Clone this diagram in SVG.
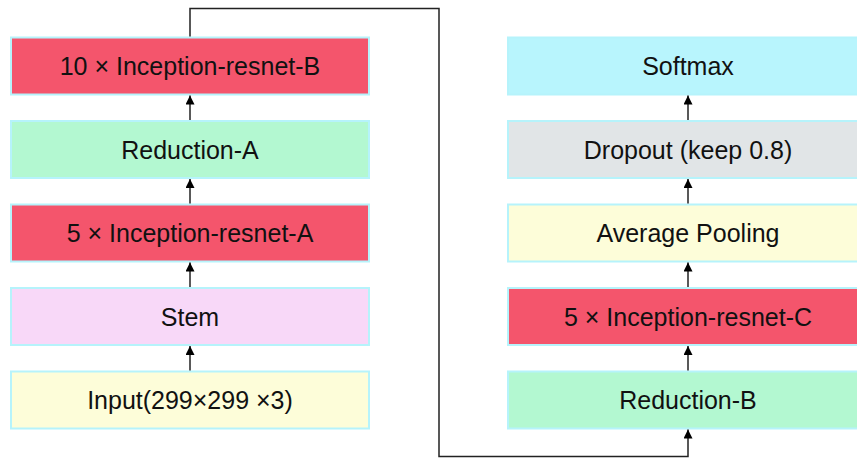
<svg xmlns="http://www.w3.org/2000/svg" width="857" height="458" viewBox="0 0 857 458">
  <style>
    .box { stroke: #b6f3fb; stroke-width: 2; }
    .red { fill: #f4556c; }
    .green { fill: #b3f8d1; }
    .pink { fill: #f8d8f8; }
    .yellow { fill: #fdfdd9; }
    .cyan { fill: #b8f5fd; }
    .gray { fill: #e1e5e7; }
    .label { font-family: "Liberation Sans", Arial, sans-serif; font-size: 25px; fill: #111; text-anchor: middle; }
    .edge { fill: none; stroke: #222; stroke-width: 1.5; }
  </style>
  <defs>
    <marker id="arrow" viewBox="0 0 10 10" refX="10" refY="5" markerWidth="10" markerHeight="9" markerUnits="userSpaceOnUse" orient="auto">
      <path d="M0,0 L10,5 L0,10 Z" fill="#000"/>
    </marker>
  </defs>
  <rect width="857" height="458" fill="#fff"/>

  <!-- left column -->
  <g id="inception-b">
    <rect class="box red" x="11" y="37.5" width="358" height="57"/>
    <text class="label" x="190" y="75">10 × Inception-resnet-B</text>
  </g>
  <g id="reduction-a">
    <rect class="box green" x="11" y="121" width="358" height="57"/>
    <text class="label" x="190" y="158.5">Reduction-A</text>
  </g>
  <g id="inception-a">
    <rect class="box red" x="11" y="204.5" width="358" height="57"/>
    <text class="label" x="190" y="242">5 × Inception-resnet-A</text>
  </g>
  <g id="stem">
    <rect class="box pink" x="11" y="288" width="358" height="57"/>
    <text class="label" x="190" y="325.5">Stem</text>
  </g>
  <g id="input">
    <rect class="box yellow" x="11" y="371.5" width="358" height="57"/>
    <text class="label" x="190" y="409">Input(299×299 ×3)</text>
  </g>

  <!-- right column -->
  <g id="softmax">
    <rect class="box cyan" x="508" y="37.5" width="358" height="57"/>
    <text class="label" x="688" y="75">Softmax</text>
  </g>
  <g id="dropout">
    <rect class="box gray" x="508" y="121" width="358" height="57"/>
    <text class="label" x="688" y="158.5">Dropout (keep 0.8)</text>
  </g>
  <g id="avg-pool">
    <rect class="box yellow" x="508" y="204.5" width="358" height="57"/>
    <text class="label" x="688" y="242">Average Pooling</text>
  </g>
  <g id="inception-c">
    <rect class="box red" x="508" y="288" width="358" height="57"/>
    <text class="label" x="688" y="325.5">5 × Inception-resnet-C</text>
  </g>
  <g id="reduction-b">
    <rect class="box green" x="508" y="371.5" width="358" height="57"/>
    <text class="label" x="688" y="409">Reduction-B</text>
  </g>

  <!-- connectors -->
  <g id="edges">
    <path class="edge" d="M190,370.5 V346" marker-end="url(#arrow)"/>
    <path class="edge" d="M190,287 V262.5" marker-end="url(#arrow)"/>
    <path class="edge" d="M190,203.5 V179" marker-end="url(#arrow)"/>
    <path class="edge" d="M190,120 V95.5" marker-end="url(#arrow)"/>
    <path class="edge" d="M190,36.5 V8.5 H439 V456.5 H688 V429.5" marker-end="url(#arrow)"/>
    <path class="edge" d="M688,287 V262.5" marker-end="url(#arrow)"/>
    <path class="edge" d="M688,203.5 V179" marker-end="url(#arrow)"/>
    <path class="edge" d="M688,120 V95.5" marker-end="url(#arrow)"/>
    <path class="edge" d="M688,370.5 V346" marker-end="url(#arrow)"/>
  </g>
</svg>
